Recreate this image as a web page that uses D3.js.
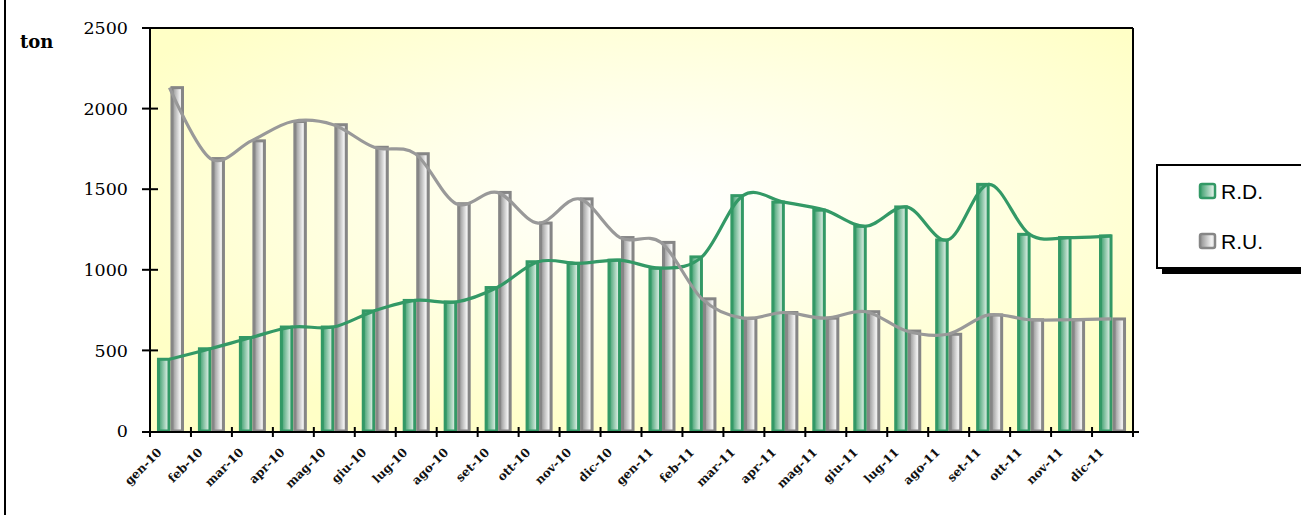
<!DOCTYPE html>
<html><head><meta charset="utf-8">
<script src="https://cdn.jsdelivr.net/npm/d3@7"></script>
<style>html,body{margin:0;padding:0;background:#fff;}svg{display:block;}</style>
</head><body>
<svg id="c" width="1301" height="515"></svg>
<script>
const categories = ["gen-10","feb-10","mar-10","apr-10","mag-10","giu-10","lug-10","ago-10","set-10","ott-10","nov-10","dic-10",
                    "gen-11","feb-11","mar-11","apr-11","mag-11","giu-11","lug-11","ago-11","set-11","ott-11","nov-11","dic-11"];
const seriesNames = ["R.D.","R.U."];
const rdValues = [445,510,580,645,645,745,810,800,890,1050,1040,1060,1010,1080,1460,1420,1370,1270,1390,1185,1530,1220,1200,1210];
const ruValues = [2130,1690,1800,1920,1900,1760,1720,1410,1480,1290,1440,1200,1170,820,700,735,700,740,620,600,720,690,690,695];
const yTicks = [0,500,1000,1500,2000,2500];
const yTitle = "ton";

const svg = d3.select("#c");
const L = 150, R = 1133, T = 28, B = 431;
const green = "#339966", grey = "#8c8c8c";

const defs = svg.append("defs");
const bg = defs.append("radialGradient").attr("id","bg").attr("cx","0.52").attr("cy","0.42").attr("r","0.62");
bg.append("stop").attr("offset","0").attr("stop-color","#ffffff");
bg.append("stop").attr("offset","0.25").attr("stop-color","#fffff2");
bg.append("stop").attr("offset","1").attr("stop-color","#ffffc6");
const gg = defs.append("linearGradient").attr("id","gGreen").attr("x1","0").attr("x2","1").attr("y1","0").attr("y2","0");
gg.append("stop").attr("offset","0").attr("stop-color","#3a9d6b");
gg.append("stop").attr("offset","1").attr("stop-color","#f2f8f4");
const gr = defs.append("linearGradient").attr("id","gGrey").attr("x1","0").attr("x2","1").attr("y1","0").attr("y2","0");
gr.append("stop").attr("offset","0").attr("stop-color","#8e8e8e");
gr.append("stop").attr("offset","0.75").attr("stop-color","#f0f0f0");
gr.append("stop").attr("offset","1").attr("stop-color","#e2e2e2");

const x = d3.scaleBand().domain(categories).range([L, R]).padding(0);
const xs = d3.scaleBand().domain(seriesNames).range([x.bandwidth()*0.17, x.bandwidth()*0.83]).padding(0);
const y = d3.scaleLinear().domain([0,2500]).range([B, T]);

// outer frame line
svg.append("line").attr("x1",5).attr("x2",5).attr("y1",0).attr("y2",515).attr("stroke","#000").attr("stroke-width",2);

// plot background
svg.append("rect").attr("x",L).attr("y",T).attr("width",R-L).attr("height",B-T).attr("fill","url(#bg)");

// bars
const data = categories.map((c,i)=>({c, vals:[{s:"R.D.",v:rdValues[i]},{s:"R.U.",v:ruValues[i]}]}));
const g = svg.append("g");
data.forEach(d=>{
  d.vals.forEach(e=>{
    const bx = x(d.c) + xs(e.s);
    const bw = xs.bandwidth();
    g.append("rect")
      .attr("x", bx + 1.5).attr("y", y(e.v))
      .attr("width", bw - 3).attr("height", B - y(e.v))
      .attr("fill", e.s==="R.D." ? "url(#gGreen)" : "url(#gGrey)")
      .attr("stroke", e.s==="R.D." ? green : "#868686")
      .attr("stroke-width", 3);
  });
});

// smoothed lines
const line = d3.line().x((d,i)=>x(categories[i]) + x.bandwidth()/2 - 1).y(d=>y(d)).curve(d3.curveCardinal.tension(0));
svg.append("path").attr("d", line(rdValues)).attr("fill","none").attr("stroke",green).attr("stroke-width",3.2);
svg.append("path").attr("d", line(ruValues)).attr("fill","none").attr("stroke","#999999").attr("stroke-width",3.2);

// borders
svg.append("line").attr("x1",L-8).attr("x2",R).attr("y1",T).attr("y2",T).attr("stroke","#000").attr("stroke-width",2);
svg.append("line").attr("x1",R).attr("x2",R).attr("y1",T).attr("y2",B).attr("stroke","#000").attr("stroke-width",2);

// y axis
const yAxis = svg.append("g");
yAxis.append("line").attr("x1",L).attr("x2",L).attr("y1",T).attr("y2",B+1).attr("stroke","#000").attr("stroke-width",2);
yTicks.forEach(t=>{
  if (t>0) yAxis.append("line").attr("x1",L-8).attr("x2",L+8).attr("y1",y(t)).attr("y2",y(t)).attr("stroke","#000").attr("stroke-width",2);
  yAxis.append("text").attr("x",128).attr("y",y(t)).attr("dy","0.35em").attr("text-anchor","end")
    .attr("font-family","DejaVu Serif").attr("font-size",17.5).attr("fill","#000").text(t);
});
svg.append("text").attr("x",20).attr("y",48).attr("font-family","DejaVu Serif").attr("font-weight","bold")
  .attr("font-size",18).attr("fill","#000").text(yTitle);

// x axis
const xAxis = svg.append("g");
xAxis.append("line").attr("x1",L-8).attr("x2",R+6).attr("y1",B+1).attr("y2",B+1).attr("stroke","#000").attr("stroke-width",2);
const bounds = categories.map(c=>x(c)).concat([R]);
bounds.forEach(b=>{
  xAxis.append("line").attr("x1",b).attr("x2",b).attr("y1",B-4).attr("y2",B+6).attr("stroke","#000").attr("stroke-width",2);
});
categories.forEach(c=>{
  const cx = x(c) + x.bandwidth()/2 - 8;
  xAxis.append("text").attr("transform",`translate(${cx},${B+22}) rotate(-45)`)
    .attr("text-anchor","end").attr("font-family","DejaVu Serif").attr("font-size",12)
    .attr("font-weight","bold").attr("fill","#111").text(c);
});

// legend
const lg = svg.append("g");
lg.append("rect").attr("x",1162).attr("y",170).attr("width",160).attr("height",104).attr("fill","#000");
lg.append("rect").attr("x",1157).attr("y",165).attr("width",160).attr("height",103).attr("fill","#fff").attr("stroke","#000").attr("stroke-width",2);
seriesNames.forEach((s,i)=>{
  const yy = 191 + i*50;
  lg.append("rect").attr("x",1200).attr("y",yy-7).attr("width",15).attr("height",14).attr("rx",2)
    .attr("fill", i===0 ? "url(#gGreen)" : "url(#gGrey)").attr("stroke", i===0 ? green : "#868686").attr("stroke-width",2.5);
  lg.append("text").attr("x",1221).attr("y",yy).attr("dy","0.36em").attr("font-family","Liberation Sans, Arial")
    .attr("font-size",21).attr("fill","#000").text(s);
});
</script>
</body></html>
